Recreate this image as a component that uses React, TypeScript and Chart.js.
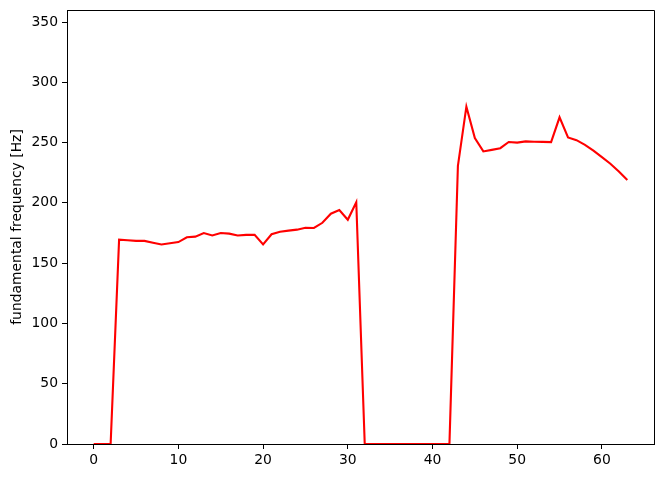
import React, { useEffect, useRef } from "react";
import { Chart, registerables } from "chart.js";

Chart.register(...registerables);

// fundamental frequency per frame (Hz); 0 = unvoiced
const f0Values: number[] = [
  0, 0, 0, 169.5, 169, 168.5, 168.5, 167, 165.5, 166.5,
  167.5, 171.5, 172, 175, 173, 175, 174.5, 173, 173.5, 173.5,
  165.5, 174, 176, 177, 177.8, 179.3, 179.2, 183.5, 191, 194,
  186, 200.5, 0, 0, 0, 0, 0, 0, 0, 0,
  0, 0, 0, 230.8, 279.8, 253.8, 242.7, 244, 245.4, 250.5,
  250, 251, 250.7, 250.6, 250.4, 271, 254.3, 252, 248.2, 243.4,
  238, 232.5, 226, 219,
];
const xTicks: number[] = [0, 10, 20, 30, 40, 50, 60];
const yTicks: number[] = [0, 50, 100, 150, 200, 250, 300, 350];
const yLabel = "fundamental frequency [Hz]";

const FONT = "'DejaVu Sans', sans-serif";

// top and right spines (left/bottom come from the axis borders)
const frameBox = {
  id: "frameBox",
  afterDraw(chart: any) {
    const { ctx, chartArea } = chart;
    const l = Math.round(chartArea.left) + 0.5;
    const t = Math.round(chartArea.top) + 0.5;
    const r = Math.round(chartArea.right) + 0.5;
    const b = Math.round(chartArea.bottom) + 0.5;
    ctx.save();
    ctx.strokeStyle = "#000";
    ctx.lineWidth = 1;
    ctx.beginPath();
    ctx.moveTo(l, t);
    ctx.lineTo(r, t);
    ctx.lineTo(r, b);
    ctx.stroke();
    ctx.restore();
  },
};

export default function App() {
  const ref = useRef<HTMLCanvasElement | null>(null);
  useEffect(() => {
    if (!ref.current) return;
    const points = f0Values.map((v, i) => ({ x: i, y: v }));
    const n = f0Values.length - 1;
    const chart = new Chart(ref.current, {
      type: "line",
      data: {
        datasets: [
          {
            data: points,
            borderColor: "#ff0000",
            borderWidth: 2.1,
            pointRadius: 0,
            tension: 0,
            fill: false,
          },
        ],
      },
      options: {
        responsive: false,
        animation: false,
        devicePixelRatio: 1,
        layout: { padding: { left: 0, top: 10, right: 10, bottom: 0 } },
        plugins: { legend: { display: false }, tooltip: { enabled: false } },
        scales: {
          x: {
            type: "linear",
            min: -0.05 * n,
            max: n * 1.05,
            afterBuildTicks: (scale: any) => {
              scale.ticks = xTicks.map((v) => ({ value: v }));
            },
            afterFit: (scale: any) => {
              scale.height = 35;
              scale.paddingLeft = 0;
              scale.paddingRight = 0;
              scale.paddingTop = 0;
              scale.paddingBottom = 0;
            },
            ticks: {
              color: "#000",
              font: { family: FONT, size: 13.9 },
              padding: 3,
              maxRotation: 0,
            },
            grid: {
              display: true,
              drawOnChartArea: false,
              drawTicks: true,
              tickLength: 5,
              color: "#000",
            },
            border: { display: true, color: "#000", width: 1 },
          },
          y: {
            type: "linear",
            min: 0,
            max: 360,
            afterBuildTicks: (scale: any) => {
              scale.ticks = yTicks.map((v) => ({ value: v }));
            },
            afterFit: (scale: any) => {
              scale.width = 67;
              scale.paddingLeft = 0;
              scale.paddingRight = 0;
              scale.paddingTop = 0;
              scale.paddingBottom = 0;
            },
            ticks: {
              color: "#000",
              font: { family: FONT, size: 13.9 },
              padding: 4,
            },
            grid: {
              display: true,
              drawOnChartArea: false,
              drawTicks: true,
              tickLength: 5,
              color: "#000",
            },
            border: { display: true, color: "#000", width: 1 },
            title: {
              display: true,
              text: yLabel,
              color: "#000",
              font: { family: FONT, size: 13.9 },
              padding: { top: 9, bottom: 0 },
            },
          },
        },
      },
      plugins: [frameBox],
    });
    return () => chart.destroy();
  }, []);
  return (
    <div style={{ position: "fixed", left: 0, top: 0, width: 664, height: 479, background: "#fff" }}>
      <canvas ref={ref} width={664} height={479} style={{ display: "block" }} />
    </div>
  );
}
